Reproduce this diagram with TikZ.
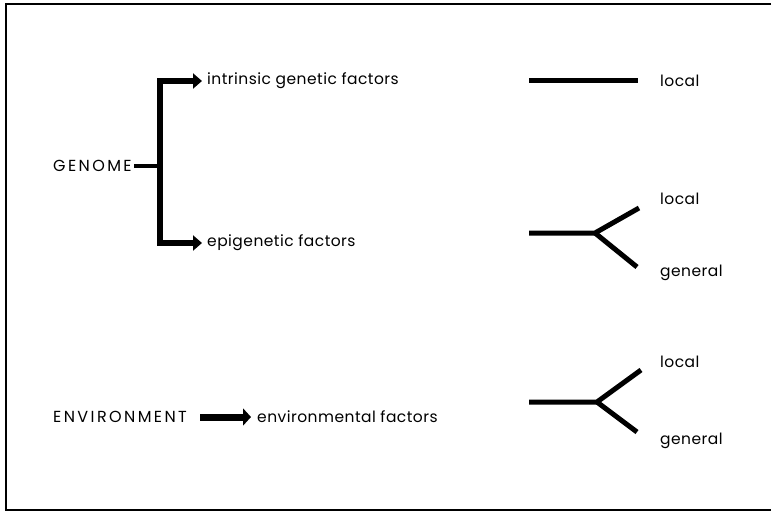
\documentclass[tikz,border=0pt]{standalone}
\usepackage{fontspec}
\setmainfont{Poppins}
\usetikzlibrary{arrows.meta}
\tikzset{
  lbl/.style={anchor=west, inner sep=0pt, font=\fontsize{15.5}{17}\selectfont\addfontfeature{LetterSpace=3}},
  caps/.style={anchor=west, inner sep=0pt, font=\fontsize{16}{18}\selectfont\addfontfeature{LetterSpace=15}},
  bar/.style={line width=5pt},
  frame/.style={line width=2pt}
}
\begin{document}
\begin{tikzpicture}[x=1pt,y=-1pt]
\useasboundingbox (0,0) rectangle (772,515);
\draw[frame] (771,4) -- (6,4) -- (6,510) -- (771,510);
% left side
\node[caps] (genome) at (53,166) {GENOME};
\node[lbl] (intr) at (207,81) {intrinsic genetic factors};
\node[lbl] (epi) at (207,243) {epigenetic factors};
\node[caps] (env) at (53,417) {ENVIRONMENT};
\node[lbl] (envf) at (257,417) {environmental factors};
\coordinate (bt) at (160,81);
\coordinate (bb) at (160,243);
\coordinate (bm) at (160,166);
\coordinate (gs) at (134,166);
\draw[line width=4pt] (gs) -- (bm);
\draw[line width=6pt, line join=miter, {Triangle[length=9pt,width=15pt]}-{Triangle[length=9pt,width=15pt]}]
  ([xshift=-5pt]intr.west) -- (bt) -- (bb) -- ([xshift=-5pt]epi.west);
\coordinate (es) at (200,417);
\draw[line width=7pt, -{Triangle[length=8pt,width=17pt]}] (es) -- ([xshift=-6pt]envf.west);
% right side
\node[lbl] (l1) at (660,81) {local};
\coordinate (s1) at (529,80);
\coordinate (e1) at (638,80);
\draw[bar] (s1) -- (e1);
\node[lbl] (l2) at (660,199) {local};
\node[lbl] (g2) at (660,273) {general};
\coordinate (s2) at (529,233);
\coordinate (j2) at (595,233);
\coordinate (u2) at (639,208);
\coordinate (d2) at (637,267);
\draw[bar, line join=miter] (s2) -- (j2) -- (u2);
\draw[bar] (j2) -- (d2);
\node[lbl] (l3) at (660,362) {local};
\node[lbl] (g3) at (660,441) {general};
\coordinate (s3) at (529,402);
\coordinate (j3) at (597,402);
\coordinate (u3) at (641,370);
\coordinate (d3) at (637,432);
\draw[bar, line join=miter] (s3) -- (j3) -- (u3);
\draw[bar] (j3) -- (d3);
\end{tikzpicture}
\end{document}
